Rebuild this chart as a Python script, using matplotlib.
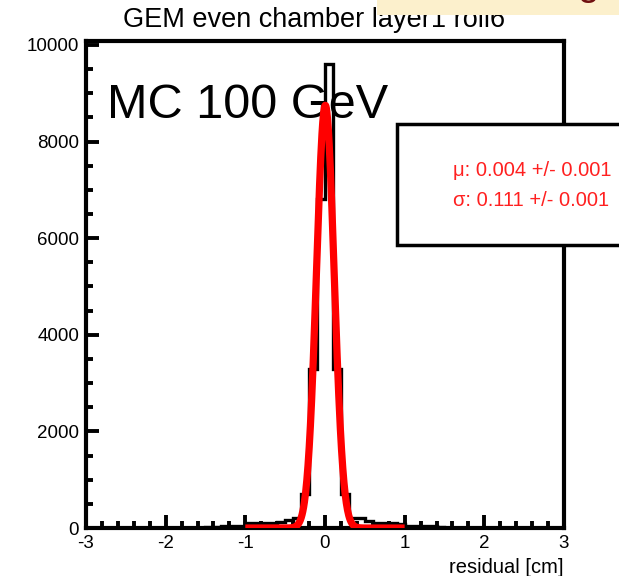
import numpy as np
import matplotlib
matplotlib.use("Agg")
import matplotlib.pyplot as plt
from matplotlib.patches import Rectangle
from matplotlib.ticker import MultipleLocator

plt.rcParams['font.family'] = ['Liberation Sans', 'DejaVu Sans']
plt.rcParams['axes.unicode_minus'] = False

# histogram: residual bins of width 0.1 cm between -1.5 and 1.5 (zero elsewhere)
bin_edges = np.round(np.arange(-1.5, 1.51, 0.1), 2)
counts = [30, 30, 35, 40, 45,
          100, 100, 105, 110, 120,
          165, 215, 700, 3300, 6800,
          9600, 3300, 700, 210, 200,
          135, 110, 100, 95, 90,
          50, 45, 40, 35, 30]

# gaussian fit parameters
fit_mu = 0.004
fit_sigma = 0.111
fit_amp = 8750
fit_range = (-1.0, 1.0)

title = "GEM even chamber layer1 roll6"
stats_lines = ["\u03bc: 0.004 +/- 0.001", "\u03c3: 0.111 +/- 0.001"]

fig = plt.figure(figsize=(6.19, 5.76), dpi=100)
ax = fig.add_axes([0.1389, 0.0833, 0.7722, 0.8455])

ax.stairs(counts, bin_edges, color='black', linewidth=2.4, zorder=2)

xf = np.linspace(fit_range[0], fit_range[1], 400)
yf = fit_amp * np.exp(-0.5 * ((xf - fit_mu) / fit_sigma) ** 2)
ax.plot(xf, yf, color='#ff0000', linewidth=5.2, zorder=3, solid_capstyle='butt')

ax.set_xlim(-3, 3)
ax.set_ylim(0, 10080)
ax.xaxis.set_major_locator(MultipleLocator(1))
ax.xaxis.set_minor_locator(MultipleLocator(0.2))
ax.yaxis.set_major_locator(MultipleLocator(2000))
ax.yaxis.set_minor_locator(MultipleLocator(500))
ax.tick_params(which='both', direction='in', top=False, right=False, width=2.8)
ax.tick_params(which='major', length=9.5, labelsize=13.5, pad=5)
ax.tick_params(which='minor', length=5)
for s in ax.spines.values():
    s.set_linewidth(3)

ax.set_xlabel("residual [cm]", fontsize=14.5, loc='right', labelpad=4)

ax.text(0.044, 0.842, "MC 100 GeV", transform=ax.transAxes, fontsize=35,
        va='baseline', ha='left', zorder=2.5)

fig.text(314 / 619, 1 - 27 / 576, title, fontsize=19.5, ha='center',
         va='baseline', zorder=1)

# slide elements on top
fig.add_artist(Rectangle((377 / 619, 1 - 15 / 576), 0.5, 0.1,
                         transform=fig.transFigure, facecolor='#fcf0cc',
                         edgecolor='none', zorder=5))
fig.text(588 / 619, 1 + 5 / 576, "g", fontsize=28, color='#701010',
         ha='center', va='baseline', zorder=6)

# stats box
fig.add_artist(Rectangle((397 / 619, 1 - 245 / 576), 0.5, 121 / 576,
                         transform=fig.transFigure, facecolor='white',
                         edgecolor='black', linewidth=2.5, zorder=5))
for i, line in enumerate(stats_lines):
    fig.text(453 / 619, 1 - (170 + 30 * i) / 576, line, fontsize=14.5,
             color='#ff2020', ha='left', va='center', zorder=6)

fig.savefig("out.png", dpi=100)
